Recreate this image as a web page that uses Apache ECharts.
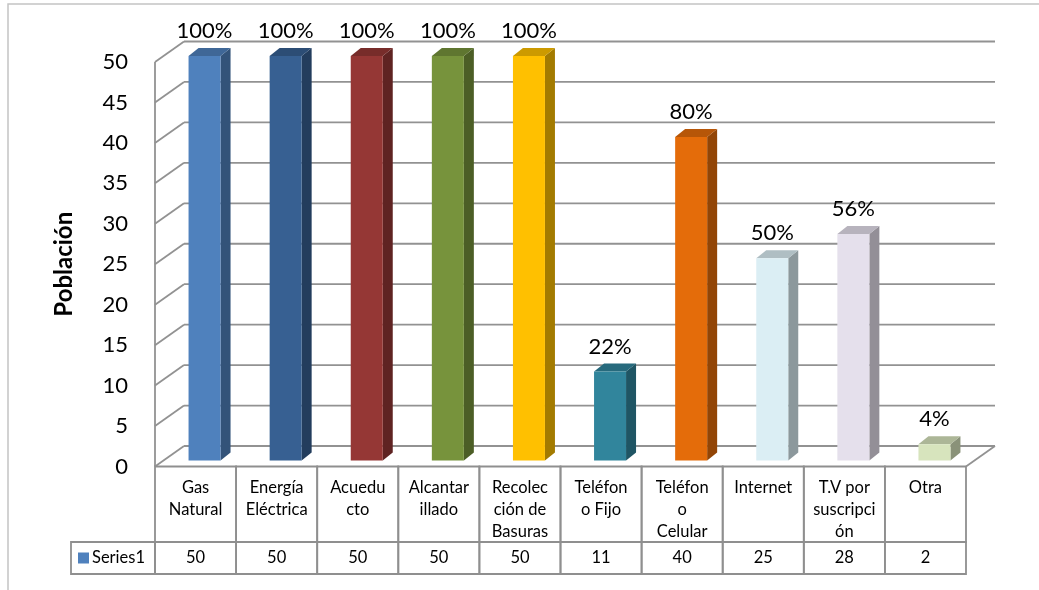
<!DOCTYPE html>
<html>
<head>
<meta charset="utf-8">
<script src="https://cdn.jsdelivr.net/npm/echarts@6/dist/echarts.min.js"></script>
<style>
  html, body { margin: 0; padding: 0; background: #fff; }
  #chart { width: 1039px; height: 590px; }
</style>
</head>
<body>
<div id="chart"></div>
<script>
// Servicios públicos de los hogares encuestados
const categories = ['Gas\nNatural', 'Energía\nEléctrica', 'Acuedu\ncto', 'Alcantar\nillado', 'Recolec\nción de\nBasuras',
  'Teléfon\no Fijo', 'Teléfon\no\nCelular', 'Internet', 'T.V por\nsuscripci\nón', 'Otra'];
const poblacion = [50, 50, 50, 50, 50, 11, 40, 25, 28, 2];
const totalHogares = 50;
const yTicks = [0, 5, 10, 15, 20, 25, 30, 35, 40, 45, 50];
const seriesName = 'Series1';

// front face colours, one per column
const barColors = ['#4F81BD', '#376092', '#953735', '#77933C', '#FFC000',
  '#31859C', '#E46C0A', '#DBEEF4', '#E5E0EC', '#D7E4BD'];

const FONT = 'Lato, "Open Sans", sans-serif';
const LINE = '#929292';
// depth of the box walls (px)
const DX = 29, DY = -20.5;
// bar geometry relative to its category centre (px)
const BAR_SHIFT = 9, BAR_HALF = 16, BAR_FRONT_DY = -6, BAR_SIDE_DX = 10, BAR_SIDE_DY = -8;

function shade(hex, f) {
  const n = parseInt(hex.slice(1), 16);
  const r = Math.round(((n >> 16) & 255) * f);
  const g = Math.round(((n >> 8) & 255) * f);
  const b = Math.round((n & 255) * f);
  return 'rgb(' + r + ',' + g + ',' + b + ')';
}

const chart = echarts.init(document.getElementById('chart'), null, { renderer: 'canvas' });

const option = {
  animation: false,
  backgroundColor: '#fff',
  graphic: [{
    type: 'rect', shape: { x: 8, y: 4, width: 1045, height: 600 },
    style: { fill: null, stroke: '#c4c4c4', lineWidth: 1.5 }, z: 0
  }],
  grid: { left: 155, top: 62, width: 811, height: 404.5 },
  xAxis: {
    type: 'category', data: categories,
    axisLine: { show: false }, axisTick: { show: false }, axisLabel: { show: false },
    splitLine: { show: false }
  },
  yAxis: {
    type: 'value', min: 0, max: 50, interval: 5,
    name: 'Población', nameLocation: 'middle', nameRotate: 90, nameGap: 79,
    nameTextStyle: { fontFamily: FONT, fontSize: 24, fontWeight: 'bold', color: '#000' },
    axisLine: { show: false }, axisTick: { show: false }, splitLine: { show: false },
    axisLabel: { fontFamily: FONT, fontSize: 22, color: '#000', margin: 27 }
  },
  series: [
    {
      // side wall, back wall and floor lines
      type: 'custom', name: 'walls', z: 1,
      data: yTicks.map(v => [0, v]),
      encode: { x: 0, y: 1 },
      renderItem: function (params, api) {
        const cs = params.coordSys;
        const v = api.value(1);
        const y = api.coord([0, v])[1];
        const x0 = cs.x, x1 = cs.x + cs.width;
        const st = { stroke: LINE, lineWidth: 1.8 };
        const kids = [
          { type: 'line', shape: { x1: x0, y1: y, x2: x0 + DX, y2: y + DY }, style: st },
          { type: 'line', shape: { x1: x0 + DX, y1: y + DY, x2: x1 + DX, y2: y + DY }, style: st }
        ];
        if (v === 0) {
          kids.push({ type: 'line', shape: { x1: x1, y1: y, x2: x1 + DX, y2: y + DY }, style: st });
          kids.push({ type: 'line', shape: { x1: x0, y1: cs.y, x2: x0, y2: y }, style: st });
        }
        return { type: 'group', children: kids };
      }
    },
    {
      // 3D columns with percentage labels
      type: 'custom', name: seriesName, z: 2,
      data: poblacion.map((v, i) => [i, v]),
      encode: { x: 0, y: 1 },
      renderItem: function (params, api) {
        const i = api.value(0), v = api.value(1);
        const base = api.coord([i, 0]);
        const top = api.coord([i, v]);
        const cx = base[0] + BAR_SHIFT;
        const fx0 = cx - BAR_HALF, fx1 = cx + BAR_HALF;
        const yb = base[1] + BAR_FRONT_DY, yt = top[1] + BAR_FRONT_DY;
        const c = barColors[i];
        const pct = Math.round(v / totalHogares * 100) + '%';
        return {
          type: 'group',
          children: [
            { type: 'polygon', shape: { points: [[fx1, yt], [fx1 + BAR_SIDE_DX, yt + BAR_SIDE_DY], [fx1 + BAR_SIDE_DX, yb + BAR_SIDE_DY], [fx1, yb]] },
              style: { fill: shade(c, 0.64) } },
            { type: 'polygon', shape: { points: [[fx0, yt], [fx0 + BAR_SIDE_DX, yt + BAR_SIDE_DY], [fx1 + BAR_SIDE_DX, yt + BAR_SIDE_DY], [fx1, yt]] },
              style: { fill: shade(c, 0.8) } },
            { type: 'rect', shape: { x: fx0, y: yt, width: fx1 - fx0, height: yb - yt },
              style: { fill: c } },
            { type: 'text', x: cx, y: yt - 25,
              style: { text: pct, fontFamily: FONT, fontSize: 22, fill: '#000', align: 'center', verticalAlign: 'middle' } }
          ]
        };
      }
    },
    {
      // data table below the plot
      type: 'custom', name: 'tabla', z: 3,
      data: poblacion.map((v, i) => [i, v]),
      encode: { x: 0, y: 1 },
      renderItem: function (params, api) {
        const i = api.value(0), v = api.value(1);
        const base = api.coord([i, 0]);
        const w = api.size([1, 0])[0];
        const xl = base[0] - w / 2;
        const y0 = base[1];
        const h1 = 75.5, h2 = 32;
        const st = { fill: null, stroke: '#8f8f8f', lineWidth: 1.8 };
        const txt = { fontFamily: FONT, fontSize: 16.5, fill: '#000', align: 'center' };
        const kids = [
          { type: 'rect', shape: { x: xl, y: y0, width: w, height: h1 }, style: st },
          { type: 'rect', shape: { x: xl, y: y0 + h1, width: w, height: h2 }, style: st },
          { type: 'text', x: base[0], y: y0 + 10,
            style: Object.assign({ text: categories[i], verticalAlign: 'top', lineHeight: 22 }, txt) },
          { type: 'text', x: base[0], y: y0 + h1 + h2 / 2,
            style: Object.assign({ text: String(v), verticalAlign: 'middle' }, txt) }
        ];
        if (i === 0) {
          kids.push({ type: 'rect', shape: { x: xl - 84, y: y0 + h1, width: 84, height: h2 }, style: st });
          kids.push({ type: 'rect', shape: { x: xl - 77, y: y0 + h1 + 10.5, width: 11, height: 11 }, style: { fill: barColors[0] } });
          kids.push({ type: 'text', x: xl - 63, y: y0 + h1 + h2 / 2,
            style: { text: seriesName, fontFamily: FONT, fontSize: 16.5, fill: '#000', align: 'left', verticalAlign: 'middle' } });
        }
        return { type: 'group', children: kids };
      }
    }
  ]
};

chart.setOption(option);
</script>
</body>
</html>
